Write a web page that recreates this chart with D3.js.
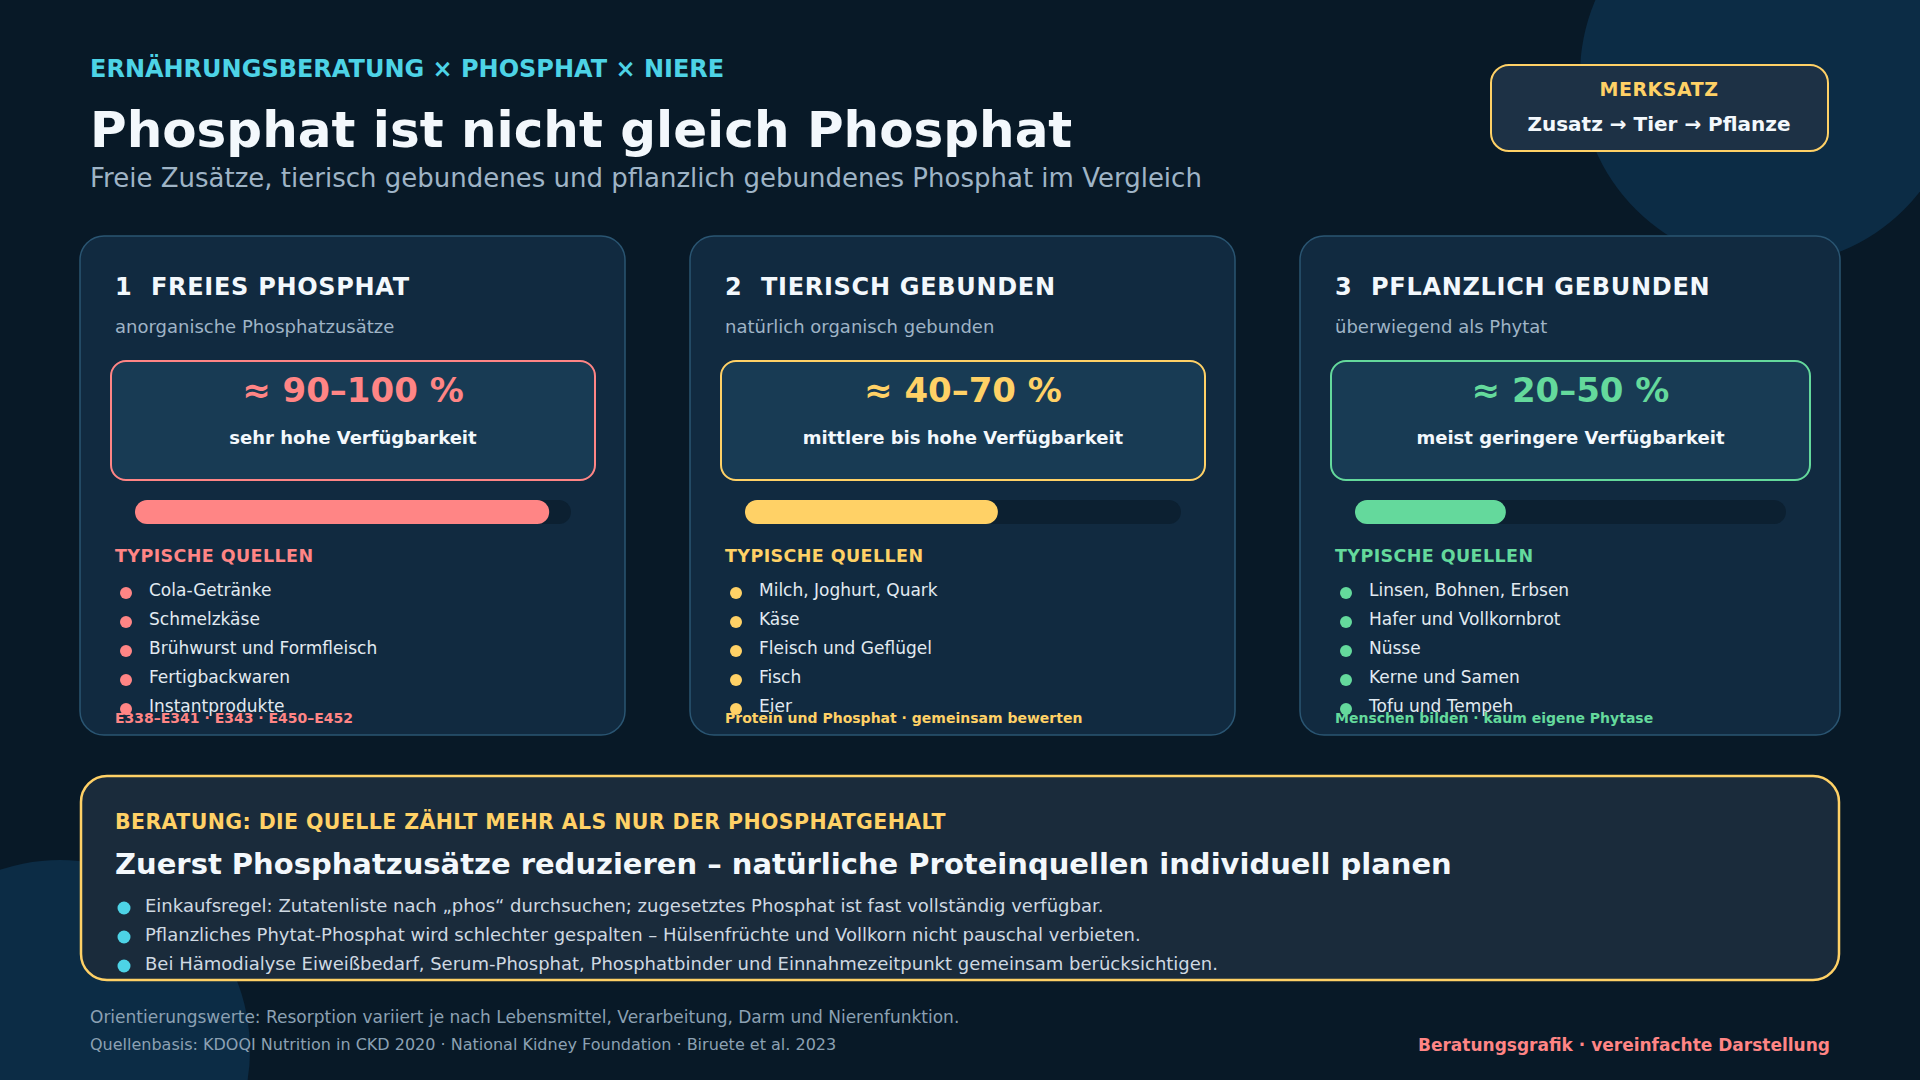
<!DOCTYPE html>
<html lang="de">
<head>
<meta charset="utf-8">
<script src="https://cdn.jsdelivr.net/npm/d3@7"></script>
<style>
  html, body { margin: 0; padding: 0; background: #081927; }
  svg { display: block; font-family: "DejaVu Sans", sans-serif; }
</style>
</head>
<body>
<svg id="chart" width="1920" height="1080"></svg>
<script>
// ---------- data ----------
const eyebrow = "ERNÄHRUNGSBERATUNG × PHOSPHAT × NIERE";
const title = "Phosphat ist nicht gleich Phosphat";
const subtitle = "Freie Zusätze, tierisch gebundenes und pflanzlich gebundenes Phosphat im Vergleich";
const merkLabel = "MERKSATZ";
const merkText = "Zusatz → Tier → Pflanze";

const categoryNumbers = ["1", "2", "3"];
const categoryTitles = ["FREIES PHOSPHAT", "TIERISCH GEBUNDEN", "PFLANZLICH GEBUNDEN"];
const categorySubtitles = ["anorganische Phosphatzusätze", "natürlich organisch gebunden", "überwiegend als Phytat"];
const rangeLabels = ["≈ 90–100 %", "≈ 40–70 %", "≈ 20–50 %"];
const availabilityLabels = ["sehr hohe Verfügbarkeit", "mittlere bis hohe Verfügbarkeit", "meist geringere Verfügbarkeit"];
const barValues = [95, 58, 35];
const sourcesHeading = "TYPISCHE QUELLEN";
const sources1 = ["Cola-Getränke", "Schmelzkäse", "Brühwurst und Formfleisch", "Fertigbackwaren", "Instantprodukte"];
const sources2 = ["Milch, Joghurt, Quark", "Käse", "Fleisch und Geflügel", "Fisch", "Eier"];
const sources3 = ["Linsen, Bohnen, Erbsen", "Hafer und Vollkornbrot", "Nüsse", "Kerne und Samen", "Tofu und Tempeh"];
const cardNotes = ["E338–E341 · E343 · E450–E452", "Protein und Phosphat · gemeinsam bewerten", "Menschen bilden · kaum eigene Phytase"];

const adviceLabel = "BERATUNG: DIE QUELLE ZÄHLT MEHR ALS NUR DER PHOSPHATGEHALT";
const adviceHeadline = "Zuerst Phosphatzusätze reduzieren – natürliche Proteinquellen individuell planen";
const adviceBullets = [
  "Einkaufsregel: Zutatenliste nach „phos“ durchsuchen; zugesetztes Phosphat ist fast vollständig verfügbar.",
  "Pflanzliches Phytat-Phosphat wird schlechter gespalten – Hülsenfrüchte und Vollkorn nicht pauschal verbieten.",
  "Bei Hämodialyse Eiweißbedarf, Serum-Phosphat, Phosphatbinder und Einnahmezeitpunkt gemeinsam berücksichtigen."
];
const footnote1 = "Orientierungswerte: Resorption variiert je nach Lebensmittel, Verarbeitung, Darm und Nierenfunktion.";
const footnote2 = "Quellenbasis: KDOQI Nutrition in CKD 2020 · National Kidney Foundation · Biruete et al. 2023";
const footerRight = "Beratungsgrafik · vereinfachte Darstellung";

// ---------- styles / layout ----------
const C = {
  bg: "#081927", deco: "#0c2c45", card: "#112a40", cardStroke: "#2a5572",
  inner: "#183b54", track: "#0c2031", panel: "#1a2b3b",
  white: "#f3f8fc", sub: "#9fb4c6", item: "#e2eaf1", foot: "#8ca1b3",
  cyan: "#4dd3e6", gold: "#ffd166", salmon: "#ff8585", green: "#64d99c"
};
const accents = [C.salmon, C.gold, C.green];
const cardX = [80, 690, 1300];
const cardW = [545, 545, 540];
const sourceLists = [sources1, sources2, sources3];

const svg = d3.select("#chart");
svg.append("rect").attr("width", 1920).attr("height", 1080).attr("fill", C.bg);

// decorative circles
svg.append("circle").attr("cx", 1770).attr("cy", 75).attr("r", 190).attr("fill", C.deco);
svg.append("circle").attr("cx", 60).attr("cy", 1050).attr("r", 190).attr("fill", C.deco);

// header
svg.append("text").attr("x", 90).attr("y", 77).attr("fill", C.cyan)
  .attr("font-size", 24).attr("font-weight", "bold").text(eyebrow);
svg.append("text").attr("x", 90).attr("y", 147).attr("fill", C.white)
  .attr("font-size", 50).attr("font-weight", "bold").text(title);
svg.append("text").attr("x", 90).attr("y", 187).attr("fill", C.sub)
  .attr("font-size", 26).text(subtitle);

// Merksatz box
const mb = svg.append("g");
mb.append("rect").attr("x", 1491).attr("y", 65).attr("width", 337).attr("height", 86)
  .attr("rx", 18).attr("fill", "#1d3145").attr("stroke", C.gold).attr("stroke-width", 2);
mb.append("text").attr("x", 1659).attr("y", 96).attr("text-anchor", "middle").attr("fill", C.gold)
  .attr("font-size", 19).attr("font-weight", "bold").attr("letter-spacing", 0.5).text(merkLabel);
mb.append("text").attr("x", 1659).attr("y", 131).attr("text-anchor", "middle").attr("fill", C.white)
  .attr("font-size", 20).attr("font-weight", "bold").text(merkText);

// cards
const cards = svg.selectAll("g.card").data(categoryTitles).join("g").attr("class", "card")
  .attr("transform", (d, i) => `translate(${cardX[i]},0)`);

cards.append("rect").attr("x", 0).attr("y", 236).attr("width", (d, i) => cardW[i]).attr("height", 499)
  .attr("rx", 24).attr("fill", C.card).attr("stroke", C.cardStroke).attr("stroke-width", 1.5);

cards.append("text").attr("x", 35).attr("y", 295).attr("fill", C.white)
  .attr("font-size", 24).attr("font-weight", "bold").text((d, i) => categoryNumbers[i]);
cards.append("text").attr("x", 71).attr("y", 295).attr("fill", C.white)
  .attr("font-size", 24).attr("font-weight", "bold").attr("letter-spacing", 0.7).text(d => d);
cards.append("text").attr("x", 35).attr("y", 333).attr("fill", C.sub)
  .attr("font-size", 18).text((d, i) => categorySubtitles[i]);

cards.append("rect").attr("x", 31).attr("y", 361).attr("width", (d, i) => cardW[i] - 61).attr("height", 119)
  .attr("rx", 15).attr("fill", C.inner).attr("stroke", (d, i) => accents[i]).attr("stroke-width", 2);
cards.append("text").attr("x", (d, i) => 31 + (cardW[i] - 61) / 2).attr("y", 402)
  .attr("text-anchor", "middle").attr("fill", (d, i) => accents[i])
  .attr("font-size", 34).attr("font-weight", "bold").text((d, i) => rangeLabels[i]);
cards.append("text").attr("x", (d, i) => 31 + (cardW[i] - 61) / 2).attr("y", 444)
  .attr("text-anchor", "middle").attr("fill", C.white)
  .attr("font-size", 18).attr("font-weight", "bold").text((d, i) => availabilityLabels[i]);

// bars via scale
cards.each(function (d, i) {
  const g = d3.select(this);
  const x0 = 55, x1 = cardW[i] - 54;
  const xs = d3.scaleLinear().domain([0, 100]).range([x0, x1]);
  g.append("rect").attr("x", xs(0)).attr("y", 500).attr("width", xs(100) - xs(0)).attr("height", 24)
    .attr("rx", 12).attr("fill", C.track);
  g.append("rect").attr("x", xs(0)).attr("y", 500).attr("width", xs(barValues[i]) - xs(0)).attr("height", 24)
    .attr("rx", 12).attr("fill", accents[i]);

  g.append("text").attr("x", 35).attr("y", 562).attr("fill", accents[i])
    .attr("font-size", 17.5).attr("font-weight", "bold").attr("letter-spacing", 0.4).text(sourcesHeading);

  const ys = d3.scalePoint().domain(d3.range(sourceLists[i].length)).range([596, 712]);
  const items = g.selectAll("g.item").data(sourceLists[i]).join("g").attr("class", "item");
  items.append("circle").attr("cx", 46).attr("cy", (s, k) => ys(k) - 3).attr("r", 6).attr("fill", accents[i]);
  items.append("text").attr("x", 69).attr("y", (s, k) => ys(k)).attr("fill", C.item)
    .attr("font-size", 17).text(s => s);

  g.append("text").attr("x", 35).attr("y", 723).attr("fill", accents[i])
    .attr("font-size", 14).attr("font-weight", "bold").text(cardNotes[i]);
});

// advice panel
const ap = svg.append("g");
ap.append("rect").attr("x", 81).attr("y", 776).attr("width", 1758).attr("height", 204)
  .attr("rx", 26).attr("fill", C.panel).attr("stroke", C.gold).attr("stroke-width", 2.5);
ap.append("text").attr("x", 115).attr("y", 829).attr("fill", C.gold)
  .attr("font-size", 20.5).attr("font-weight", "bold").attr("letter-spacing", 0.4).text(adviceLabel);
ap.append("text").attr("x", 115).attr("y", 874).attr("fill", C.white)
  .attr("font-size", 29).attr("font-weight", "bold").text(adviceHeadline);
const by = d3.scalePoint().domain(d3.range(adviceBullets.length)).range([912, 970]);
const ab = ap.selectAll("g.ab").data(adviceBullets).join("g").attr("class", "ab");
ab.append("circle").attr("cx", 124).attr("cy", (d, i) => by(i) - 4).attr("r", 6.5).attr("fill", C.cyan);
ab.append("text").attr("x", 145).attr("y", (d, i) => by(i)).attr("fill", "#cfd9e2")
  .attr("font-size", 18).text(d => d);

// footer
svg.append("text").attr("x", 90).attr("y", 1023).attr("fill", C.foot).attr("font-size", 17).text(footnote1);
svg.append("text").attr("x", 90).attr("y", 1050).attr("fill", C.foot).attr("font-size", 16).text(footnote2);
svg.append("text").attr("x", 1830).attr("y", 1051).attr("text-anchor", "end").attr("fill", C.salmon)
  .attr("font-size", 17).attr("font-weight", "bold").text(footerRight);
</script>
</body>
</html>
